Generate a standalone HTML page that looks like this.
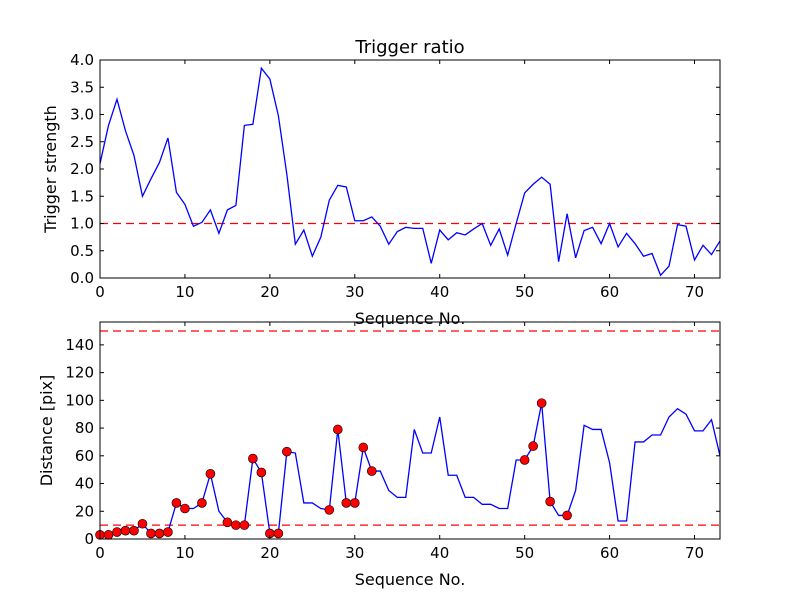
<!DOCTYPE html>
<html><head><meta charset="utf-8"><style>
body{margin:0;background:#fff;}
svg text{font-family:"DejaVu Sans","Liberation Sans",sans-serif;fill:#000;}
</style></head><body>
<svg id="chart" width="800" height="600" xmlns="http://www.w3.org/2000/svg">
<rect width="800" height="600" fill="#fff"/>
<g id="g1"></g>
<g id="g2"></g>
</svg>
<script>
const seqNo = Array.from({length:74},(_,i)=>i);
const triggerRatio = [2.1,2.8,3.28,2.7,2.25,1.5,1.82,2.12,2.57,1.57,1.35,0.95,1.02,1.25,0.82,1.25,1.33,2.8,2.82,3.85,3.65,2.98,1.9,0.62,0.88,0.4,0.75,1.43,1.7,1.67,1.05,1.05,1.12,0.95,0.62,0.85,0.93,0.91,0.91,0.27,0.88,0.7,0.83,0.79,0.9,1.0,0.6,0.9,0.42,1.0,1.56,1.72,1.85,1.72,0.3,1.18,0.37,0.87,0.93,0.63,1.0,0.57,0.82,0.63,0.4,0.45,0.05,0.22,0.98,0.95,0.33,0.6,0.43,0.68];
const distance = [3,3,5,6,6,11,4,4,5,26,22,22,26,47,20,12,10,10,58,48,4,4,63,62,26,26,22,21,79,26,26,66,49,49,35,30,30,79,62,62,88,46,46,30,30,25,25,22,22,57,57,67,98,27,17,17,35,82,79,79,55,13,13,70,70,75,75,88,94,90,78,78,86,60];
const markedIdx = [0,1,2,3,4,5,6,7,8,9,10,12,13,15,16,17,18,19,20,21,22,27,28,29,30,31,32,50,51,52,53,55];
const topThreshold = [1.0];
const distThresholds = [10,150];
const xTicks = [0,10,20,30,40,50,60,70];
const topYTicks = [0,0.5,1.0,1.5,2.0,2.5,3.0,3.5,4.0];
const botYTicks = [0,20,40,60,80,100,120,140];

const NS="http://www.w3.org/2000/svg";
function mk(p,tag,at){const e=document.createElementNS(NS,tag);for(const k in at)e.setAttribute(k,at[k]);p.appendChild(e);return e;}
function panel(g,top,bottom,ymax,yTicks,fmt,ylabel,title){
  const L=100,R=720,xmax=73;
  const sx=v=>L+(v/xmax)*(R-L);
  const sy=v=>bottom-(v/ymax)*(bottom-top);
  return {L,R,sx,sy,draw(){
    xTicks.forEach(t=>{
      const x=sx(t);
      const a=mk(g,'line',{x1:x,x2:x,y1:bottom,y2:bottom-4,stroke:'#000'});
      
      mk(g,'line',{x1:x,x2:x,y1:top,y2:top+4,stroke:'#000'});
      const tx=mk(g,'text',{x:x,y:bottom+19,'text-anchor':'middle','font-size':'15'});
      tx.textContent=t;
      
    });
    yTicks.forEach(t=>{
      const y=sy(t);
      mk(g,'line',{x1:L,x2:L+4,y1:y,y2:y,stroke:'#000'});
      mk(g,'line',{x1:R,x2:R-4,y1:y,y2:y,stroke:'#000'});
      const tx=mk(g,'text',{x:L-6,y:y+5,'text-anchor':'end','font-size':'15'});
      tx.textContent=fmt(t);
      
    });
    const yl=mk(g,'text',{x:0,y:0,'text-anchor':'middle','font-size':'16',transform:`translate(${ylabel[1]},${(top+bottom)/2}) rotate(-90)`});
    yl.textContent=ylabel[0];
    
    const xl=mk(g,'text',{x:(L+R)/2,y:bottom+46,'text-anchor':'middle','font-size':'16'});
    xl.textContent='Sequence No.';
    
    if(title){const tt=mk(g,'text',{x:(L+R)/2,y:top-7,'text-anchor':'middle','font-size':'18'});tt.textContent=title;
      }
  },frame(){
    const f=mk(g,'rect',{x:L,y:top,width:R-L,height:bottom-top,fill:'none',stroke:'#000','stroke-width':1});
    
  }};
}
// top
const g1=document.getElementById('g1');
const p1=panel(g1,60,278,4,topYTicks,t=>t.toFixed(1),['Trigger strength',56],'Trigger ratio');
topThreshold.forEach(v=>{const l=mk(g1,'line',{x1:p1.L,x2:p1.R,y1:p1.sy(v),y2:p1.sy(v),stroke:'#f00','stroke-width':1.3,'stroke-dasharray':'8,5'});
  });
const pl1=mk(g1,'polyline',{points:triggerRatio.map((v,i)=>p1.sx(seqNo[i])+','+p1.sy(v)).join(' '),fill:'none',stroke:'#00f','stroke-width':1.3});

p1.draw();p1.frame();
// bottom
const g2=document.getElementById('g2');
const p2=panel(g2,322,539,156.5,botYTicks,t=>String(t),['Distance [pix]',52],null);
distThresholds.forEach(v=>{const l=mk(g2,'line',{x1:p2.L,x2:p2.R,y1:p2.sy(v),y2:p2.sy(v),stroke:'#f00','stroke-width':1.3,'stroke-dasharray':'8,5'});
  });
const pl2=mk(g2,'polyline',{points:distance.map((v,i)=>p2.sx(seqNo[i])+','+p2.sy(v)).join(' '),fill:'none',stroke:'#00f','stroke-width':1.3});

markedIdx.forEach(i=>{const c=mk(g2,'circle',{cx:p2.sx(seqNo[i]),cy:p2.sy(distance[i]),r:4.5,fill:'#f00',stroke:'#000','stroke-width':0.6});
  });
p2.draw();p2.frame();
</script>
</body></html>
